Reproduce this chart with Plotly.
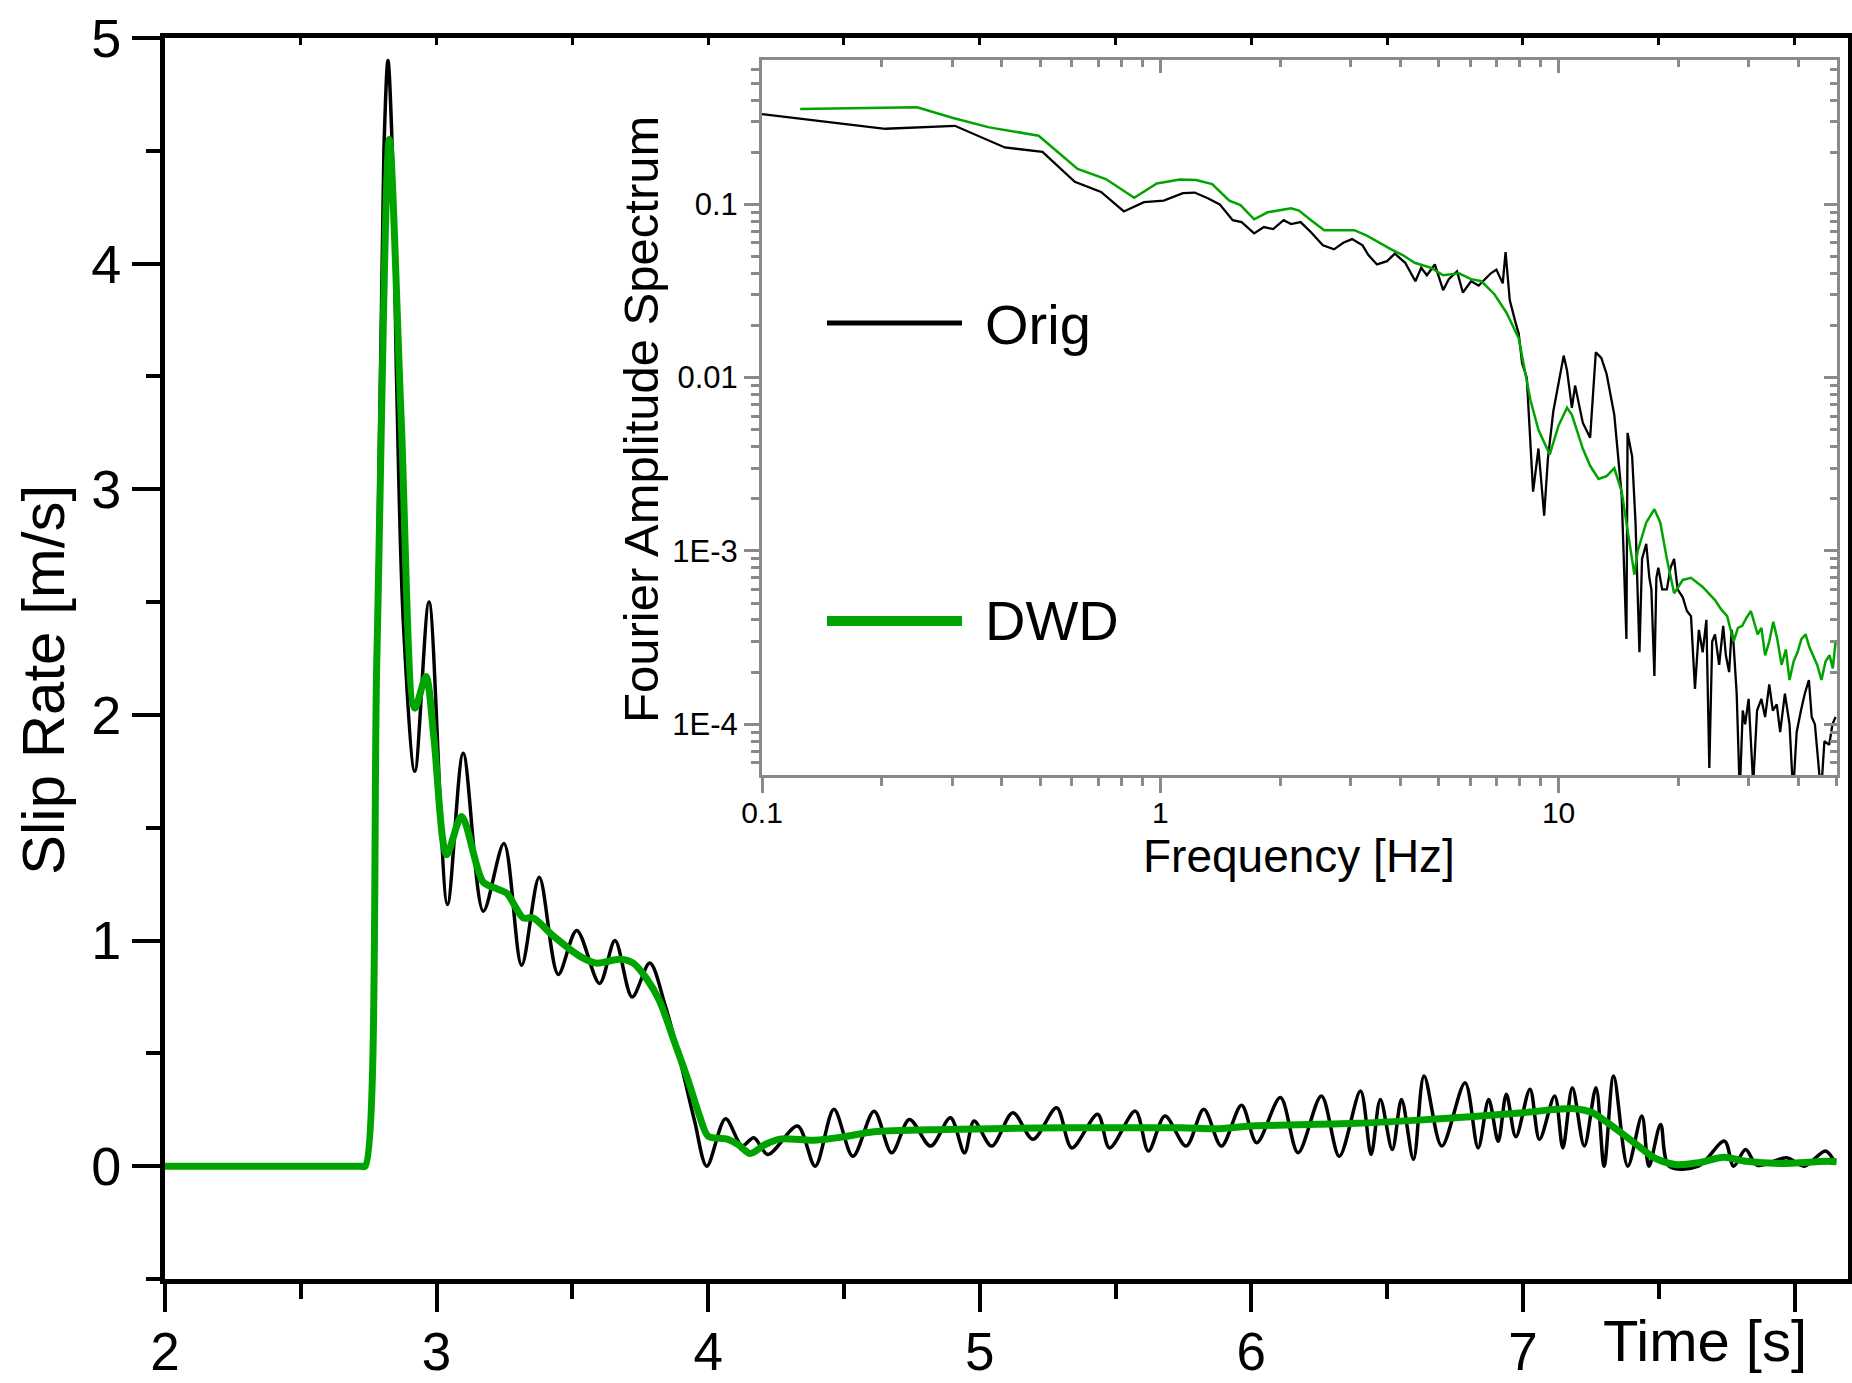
import plotly.graph_objects as go

# ---------------- data: main plot (slip rate vs time) ----------------
t_orig = [2.0, 2.72, 2.737, 2.78, 2.806, 2.821, 2.837, 2.853, 2.878, 2.92, 2.972, 3.04, 3.098,
          3.172, 3.248, 3.313, 3.378, 3.448, 3.516, 3.6, 3.657, 3.72, 3.785, 3.84, 3.9,
          3.95, 3.995, 4.064, 4.125, 4.168, 4.22, 4.329, 4.394, 4.463, 4.533, 4.611, 4.676,
          4.741, 4.819, 4.892, 4.944, 4.979, 5.044, 5.122, 5.196, 5.283, 5.339, 5.434, 5.478,
          5.573, 5.621, 5.682, 5.76, 5.825, 5.89, 5.964, 6.02, 6.107, 6.172, 6.258, 6.324,
          6.402, 6.441, 6.475, 6.519, 6.553, 6.597, 6.636, 6.701, 6.787, 6.835, 6.874, 6.909,
          6.939, 6.974, 7.026, 7.061, 7.117, 7.147, 7.182, 7.226, 7.269, 7.299, 7.334, 7.386,
          7.438, 7.464, 7.507, 7.538, 7.646, 7.742, 7.776, 7.82, 7.863, 7.971, 8.036, 8.114,
          8.149]
v_orig = [0.0, 0.0, 0.0, 2.4, 4.5, 4.9, 4.5, 3.47, 2.4, 1.75, 2.5, 1.16, 1.83,
          1.13, 1.43, 0.89, 1.28, 0.85, 1.045, 0.81, 1.0, 0.75, 0.9, 0.72, 0.45,
          0.2, 0.0, 0.21, 0.09, 0.126, 0.052, 0.178, 0.0, 0.252, 0.044, 0.244, 0.059,
          0.207, 0.089, 0.215, 0.059, 0.2, 0.089, 0.237, 0.119, 0.259, 0.081, 0.23, 0.081,
          0.244, 0.067, 0.222, 0.089, 0.252, 0.089, 0.27, 0.104, 0.304, 0.06, 0.311, 0.044,
          0.333, 0.052, 0.296, 0.074, 0.296, 0.03, 0.4, 0.089, 0.37, 0.081, 0.296, 0.11,
          0.319, 0.13, 0.341, 0.119, 0.311, 0.081, 0.348, 0.089, 0.348, 0.0, 0.4, 0.0,
          0.222, 0.0, 0.185, 0.0, 0.0, 0.111, 0.0, 0.074, 0.004, 0.037, 0.0, 0.067,
          0.015]

t_dwd = [2.0, 2.72, 2.737, 2.78, 2.826, 2.87, 2.92, 2.961, 2.99, 3.037, 3.092, 3.171, 3.221,
         3.258, 3.319, 3.356, 3.43, 3.528, 3.589, 3.675, 3.724, 3.774, 3.822, 3.873, 3.925,
         3.969, 4.0, 4.07, 4.11, 4.155, 4.21, 4.263, 4.39, 4.5, 4.61, 4.87, 5.3, 5.74,
         5.87, 6.0, 6.39, 6.6, 6.82, 7.0, 7.126, 7.19, 7.256, 7.32, 7.41, 7.49, 7.56,
         7.646, 7.74, 7.82, 7.95, 8.12, 8.155]
v_dwd = [0.0, 0.0, 0.0, 2.25, 4.55, 3.3, 2.03, 2.17, 1.9, 1.38, 1.55, 1.26, 1.23,
         1.21, 1.1, 1.1, 1.02, 0.93, 0.9, 0.917, 0.9, 0.83, 0.73, 0.56, 0.385,
         0.22, 0.133, 0.12, 0.096, 0.056, 0.096, 0.12, 0.115, 0.13, 0.153, 0.163, 0.17, 0.17,
         0.166, 0.178, 0.19, 0.203, 0.22, 0.237, 0.252, 0.255, 0.237, 0.185, 0.104, 0.033, 0.007,
         0.015, 0.04, 0.022, 0.012, 0.022, 0.02]

# ---------------- data: inset (Fourier amplitude spectrum) ----------------
f_orig = [0.1, 0.204, 0.305, 0.407, 0.506, 0.61, 0.71, 0.81, 0.91, 1.02, 1.14, 1.22,
          1.32, 1.41, 1.52, 1.6, 1.72, 1.82, 1.92, 2.04, 2.13, 2.25, 2.39, 2.56, 2.73,
          2.88, 3.03, 3.22, 3.33, 3.5, 3.71, 3.88, 4.12, 4.37, 4.52, 4.67, 4.89, 5.13,
          5.3, 5.56, 5.75, 6.03, 6.3, 6.76, 6.98, 7.24, 7.36, 7.54, 7.8, 7.94, 8.1, 8.32,
          8.63, 8.9, 9.2, 9.4, 9.7, 10.3, 10.5, 10.8, 11.0, 11.5, 12.0, 12.4, 12.8, 13.2,
          13.8, 14.4, 14.8, 14.9, 15.3, 15.6, 15.96, 16.2, 16.6, 16.9, 17.1, 17.4, 17.6,
          17.8, 18.2, 18.7, 19.1, 19.5, 19.9, 20.5, 21.0, 21.5, 22.0, 22.5, 23.0, 23.5,
          23.9, 24.3, 24.7, 25.3, 25.9, 26.3, 26.8, 27.2, 27.5, 28.0, 28.5, 29.0, 29.4,
          30.0, 30.8, 31.5, 32.3, 33.0, 33.8, 34.5, 35.3, 36.0, 37.0, 38.0, 38.8, 39.6,
          40.6, 41.5, 42.5, 43.2, 44.0, 44.8, 45.6, 46.5, 47.8, 48.7, 49.6]
a_orig = [0.332, 0.273, 0.284, 0.213, 0.201, 0.135, 0.118, 0.091, 0.103, 0.105, 0.116, 0.117,
          0.108, 0.1, 0.081, 0.079, 0.068, 0.074, 0.072, 0.081, 0.077, 0.079, 0.069, 0.058, 0.055,
          0.06, 0.063, 0.058, 0.051, 0.045, 0.047, 0.052, 0.046, 0.036, 0.043, 0.039, 0.045, 0.032,
          0.037, 0.041, 0.031, 0.036, 0.034, 0.04, 0.042, 0.035, 0.053, 0.028, 0.0207, 0.018, 0.0121, 0.01,
          0.0022, 0.0039, 0.0016, 0.0034, 0.0064, 0.0134, 0.011, 0.0067, 0.009, 0.0055, 0.0045, 0.014, 0.013, 0.0105,
          0.0061, 0.0021, 0.00031, 0.0048, 0.0035, 0.00146, 0.00026, 0.0009, 0.0011, 0.0007, 0.0006, 0.00019, 0.0007,
          0.0008, 0.0006, 0.0006, 0.0008, 0.0009, 0.0006, 0.00054, 0.00045, 0.00042, 0.00016, 0.00035, 0.00026, 0.0004,
          5.6e-5, 0.0003, 0.00033, 0.00022, 0.00037, 0.00025, 0.0002, 0.00035, 0.00029, 0.00015, 4e-5, 0.00012, 0.0001,
          0.00014, 4.5e-5, 0.00012, 0.00014, 0.00011, 0.00017, 0.00012, 0.00013, 9e-5, 0.00015, 0.0001, 4e-5, 9e-5,
          0.00012, 0.00015, 0.00018, 0.00011, 0.0001, 6e-5, 4e-5, 8e-5, 7.6e-5, 0.0001, 0.00011]

f_dwd = [0.1247, 0.245, 0.302, 0.372, 0.495, 0.62, 0.73, 0.86, 0.98, 1.12, 1.23, 1.35,
         1.49, 1.59, 1.72, 1.86, 2.13, 2.23, 2.39, 2.58, 3.07, 3.3, 3.8, 4.06, 4.35, 4.79,
         5.13, 5.62, 6.03, 6.4, 6.9, 7.4, 7.94, 8.5, 8.9, 9.5, 10.0, 10.5, 10.8, 11.5, 12.0,
         12.6, 13.2, 13.8, 14.4, 14.9, 15.5, 15.8, 16.6, 17.4, 18.0, 18.7, 19.5, 20.5, 21.5,
         23.0, 24.7, 25.6, 26.5, 27.5, 28.2, 28.9, 29.6, 30.4, 31.6, 32.3, 33.0, 33.8, 34.6,
         35.4, 36.3, 37.2, 38.0, 38.9, 39.8, 40.7, 41.7, 42.6, 43.6, 44.6, 45.7, 46.8, 47.9, 48.8, 49.6]
a_dwd = [0.355, 0.363, 0.315, 0.278, 0.249, 0.16, 0.14, 0.109, 0.132, 0.139, 0.138, 0.131,
         0.105, 0.099, 0.082, 0.09, 0.095, 0.092, 0.081, 0.071, 0.071, 0.066, 0.055, 0.051, 0.046, 0.043,
         0.039, 0.04, 0.037, 0.036, 0.0303, 0.0237, 0.0169, 0.0074, 0.005, 0.0036, 0.0053, 0.0067, 0.0061, 0.0039, 0.0031,
         0.0026, 0.0027, 0.003, 0.0022, 0.0013, 0.00073, 0.001, 0.00146, 0.00174, 0.00146, 0.0009, 0.00057, 0.00068, 0.0007,
         0.00062, 0.00052, 0.00046, 0.00042, 0.0003, 0.00036, 0.00037, 0.00041, 0.00045, 0.00033, 0.00036, 0.00025, 0.0003, 0.00039,
         0.00031, 0.00022, 0.00027, 0.00018, 0.00023, 0.00026, 0.00031, 0.00033, 0.00028, 0.00025, 0.00022, 0.00018, 0.00023, 0.00025, 0.00021, 0.0003]

main_xticks = [2, 3, 4, 5, 6, 7, 8]
main_xticktext = ["2", "3", "4", "5", "6", "7", ""]
main_yticks = [0, 1, 2, 3, 4, 5]
inset_xticks = [0.1, 1, 10]
inset_xticktext = ["0.1", "1", "10"]
inset_yticks = [1e-4, 1e-3, 1e-2, 1e-1]
inset_yticktext = ["1E-4", "1E-3", "0.01", "0.1"]

# ---------------- layout constants ----------------
W, H = 1852, 1383
L, R, T, B = 165, 4, 38, 104
PW, PH = W - L - R, H - T - B
GREEN = "#00a400"
GRAY = "#8a8a8a"
FONT = "Liberation Sans, Arial, Helvetica, sans-serif"


def px(xp):
    return (xp - L) / PW


def py(yp):
    return (H - B - yp) / PH


def minor_log(lo_exp, hi_exp):
    vals = []
    for e in range(lo_exp, hi_exp + 1):
        for m in range(2, 10):
            vals.append(m * 10.0 ** e)
    return vals


fig = go.Figure()

fig.add_trace(go.Scatter(x=t_orig, y=v_orig, name="Orig", mode="lines",
                         line=dict(color="black", width=3.5, shape="spline", smoothing=0.9),
                         xaxis="x", yaxis="y", showlegend=False))
fig.add_trace(go.Scatter(x=t_dwd, y=v_dwd, name="DWD", mode="lines",
                         line=dict(color=GREEN, width=7, shape="spline", smoothing=0.8),
                         xaxis="x", yaxis="y", showlegend=False))

fig.add_trace(go.Scatter(x=f_orig, y=a_orig, name="Orig", mode="lines",
                         line=dict(color="black", width=2.3),
                         xaxis="x2", yaxis="y2", showlegend=False))
fig.add_trace(go.Scatter(x=f_dwd, y=a_dwd, name="DWD", mode="lines",
                         line=dict(color=GREEN, width=2.5),
                         xaxis="x2", yaxis="y2", showlegend=False))

# empty helper traces so that mirrored tick axes are drawn
fig.add_trace(go.Scatter(x=[], y=[], xaxis="x3", yaxis="y", showlegend=False, hoverinfo="skip"))
fig.add_trace(go.Scatter(x=[], y=[], xaxis="x4", yaxis="y2", showlegend=False, hoverinfo="skip"))
fig.add_trace(go.Scatter(x=[], y=[], xaxis="x2", yaxis="y4", showlegend=False, hoverinfo="skip"))

xr = [2, 8.197]
inset_xr = [-1, 1.699]
inset_yr = [-4.293, -0.167]
ix_dom = [px(762), px(1837)]
iy_dom = [py(775), py(60)]

fig.update_layout(
    width=W, height=H,
    margin=dict(l=L, r=R, t=T, b=B, autoexpand=False),
    paper_bgcolor="white", plot_bgcolor="white",
    font=dict(family=FONT, color="black"),
    xaxis=dict(range=xr, domain=[0, 1], anchor="y", tickmode="array", tickvals=main_xticks,
               ticktext=main_xticktext, ticks="outside", ticklen=28, tickwidth=4, tickcolor="black",
               showline=True, linewidth=5, linecolor="black", mirror=True, showgrid=False,
               zeroline=False, tickfont=dict(size=53), ticklabelstandoff=-6,
               minor=dict(tickmode="array", tickvals=[2.5, 3.5, 4.5, 5.5, 6.5, 7.5],
                          ticks="outside", ticklen=15, tickwidth=4, tickcolor="black")),
    yaxis=dict(range=[-0.5, 5], domain=[0, 1], anchor="x", tickmode="array", tickvals=main_yticks,
               ticks="outside", ticklen=28, tickwidth=4, tickcolor="black",
               showline=True, linewidth=5, linecolor="black", mirror=True, showgrid=False,
               zeroline=False, tickfont=dict(size=54),
               minor=dict(tickmode="array", tickvals=[-0.5, 0.5, 1.5, 2.5, 3.5, 4.5],
                          ticks="outside", ticklen=14, tickwidth=4, tickcolor="black")),
    xaxis3=dict(range=xr, overlaying="x", side="top", anchor="y", tickmode="array",
                tickvals=[2.5, 3, 3.5, 4, 4.5, 5, 5.5, 6, 6.5, 7, 7.5, 8], ticks="inside",
                ticklen=7, tickwidth=3, tickcolor="black", showticklabels=False,
                showline=False, showgrid=False, zeroline=False),
    xaxis2=dict(type="log", range=inset_xr, domain=ix_dom, anchor="y2", tickmode="array",
                tickvals=inset_xticks, ticktext=inset_xticktext, ticks="outside", ticklen=15,
                tickwidth=2.5, tickcolor=GRAY, showline=True, linewidth=3, linecolor=GRAY,
                mirror=True, showgrid=False, zeroline=False, tickfont=dict(size=30),
                ticklabelstandoff=-6,
                minor=dict(tickmode="array", tickvals=minor_log(-1, 1), ticks="outside",
                           ticklen=8, tickwidth=2.5, tickcolor=GRAY)),
    yaxis2=dict(type="log", range=inset_yr, domain=iy_dom, anchor="x2", tickmode="array",
                tickvals=inset_yticks, ticktext=inset_yticktext, ticks="outside", ticklen=15,
                tickwidth=2.5, tickcolor=GRAY, showline=True, linewidth=3, linecolor=GRAY,
                mirror=True, showgrid=False, zeroline=False, tickfont=dict(size=31),
                minor=dict(tickmode="array", tickvals=minor_log(-5, -1), ticks="outside",
                           ticklen=8, tickwidth=2.5, tickcolor=GRAY)),
    xaxis4=dict(type="log", range=inset_xr, overlaying="x2", side="top", anchor="y2",
                tickmode="array", tickvals=inset_xticks, ticks="inside", ticklen=13,
                tickwidth=2.5, tickcolor=GRAY, showticklabels=False, showline=False,
                showgrid=False, zeroline=False,
                minor=dict(tickmode="array", tickvals=minor_log(-1, 1), ticks="inside",
                           ticklen=7, tickwidth=2.5, tickcolor=GRAY)),
    yaxis4=dict(type="log", range=inset_yr, overlaying="y2", side="right", anchor="x2",
                tickmode="array", tickvals=inset_yticks, ticks="inside", ticklen=13,
                tickwidth=2.5, tickcolor=GRAY, showticklabels=False, showline=False,
                showgrid=False, zeroline=False,
                minor=dict(tickmode="array", tickvals=minor_log(-5, -1), ticks="inside",
                           ticklen=7, tickwidth=2.5, tickcolor=GRAY)),
)

annotations = [
    dict(text="Slip Rate [m/s]", x=px(43), y=py(680), textangle=-90, font=dict(size=60)),
    dict(text="Time [s]", x=px(1705), y=py(1340), font=dict(size=58)),
    dict(text="Fourier Amplitude Spectrum", x=px(641), y=py(420), textangle=-90, font=dict(size=49)),
    dict(text="Frequency [Hz]", x=px(1299), y=py(856), font=dict(size=46)),
    dict(text="Orig", x=px(983), y=py(324), xanchor="left", font=dict(size=56)),
    dict(text="DWD", x=px(983), y=py(620), xanchor="left", font=dict(size=56)),
]
for a in annotations:
    a.setdefault("xanchor", "center")
    a.update(xref="paper", yref="paper", yanchor="middle", showarrow=False)
fig.update_layout(annotations=annotations)

fig.add_shape(type="line", xref="paper", yref="paper", x0=px(827), x1=px(962), y0=py(323), y1=py(323),
              line=dict(color="black", width=5))
fig.add_shape(type="line", xref="paper", yref="paper", x0=px(827), x1=px(962), y0=py(621), y1=py(621),
              line=dict(color=GREEN, width=10))

fig.write_html("out.html",
               post_script="document.body.style.margin='0px';document.body.style.overflow='hidden';")
